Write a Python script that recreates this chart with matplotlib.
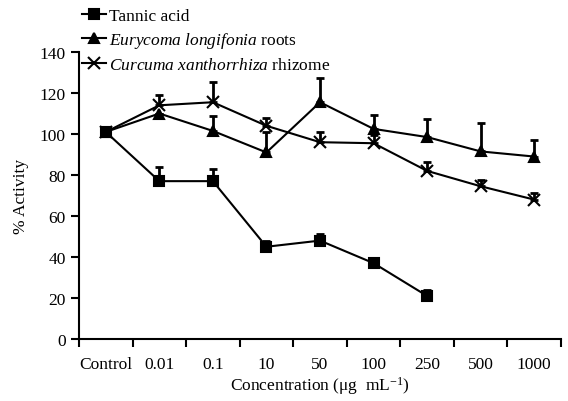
import numpy as np
import matplotlib
matplotlib.use("Agg")
import matplotlib.pyplot as plt

plt.rcParams['font.family'] = 'Liberation Serif'
plt.rcParams['mathtext.fontset'] = 'custom'
plt.rcParams['mathtext.rm'] = 'Liberation Serif'
plt.rcParams['mathtext.it'] = 'Liberation Serif:italic'
plt.rcParams['font.size'] = 12.5

# data
categories = ['Control', '0.01', '0.1', '10', '50', '100', '250', '500', '1000']

tannic = [101, 77, 77, 45, 48, 37, 21]
tannic_err = [0, 7, 6, 3, 3, 1, 3]

eurycoma = [101, 110, 101.5, 91, 115.5, 102.5, 98.5, 91.5, 89]
eurycoma_err = [0, 0, 7.5, 10, 12, 7, 9, 14, 8]

curcuma = [101, 114, 115.5, 104, 96, 95.5, 82, 74.5, 68]
curcuma_err = [0, 5, 10, 4, 5, 4, 4.5, 3, 3]

fig = plt.figure(figsize=(5.68, 4.02), dpi=100)
ax = fig.add_axes([79 / 568, 62 / 402, 482 / 568, 287 / 402])

x = np.arange(len(categories)) + 0.5

def draw(vals, errs, marker, ms, label):
    xs = x[:len(vals)]
    ax.errorbar(xs, vals, yerr=[np.zeros(len(errs)), errs], fmt='none',
                ecolor='black', elinewidth=2, capsize=3, capthick=2)
    line, = ax.plot(xs, vals, color='black', lw=1.5, marker=marker,
                    ms=ms, mew=1.5, label=label)
    return line

h3 = draw(curcuma, curcuma_err, 'x', 8, r'$\it{Curcuma\ xanthorrhiza}$ rhizome')
h2 = draw(eurycoma, eurycoma_err, '^', 7, r'$\it{Eurycoma\ longifonia}$ roots')
h1 = draw(tannic, tannic_err, 's', 7, 'Tannic acid')

ax.set_xlim(0, 9)
ax.set_ylim(0, 140)
ax.set_yticks(range(0, 141, 20))
ax.set_xticks(range(0, 10))
ax.set_xticklabels([])
ax.set_xticks(x, minor=True)
ax.set_xticklabels(categories, minor=True)
ax.tick_params(axis='x', which='minor', length=0, pad=12)
ax.tick_params(axis='both', which='major', direction='out', length=6, width=1.5)
for s in ['top', 'right']:
    ax.spines[s].set_visible(False)
for s in ['left', 'bottom']:
    ax.spines[s].set_linewidth(1.5)

ax.set_ylabel('% Activity', labelpad=8)
ax.set_xlabel(r'Concentration (μg  mL$^{-1}$)', labelpad=2)

fig.legend([h1, h2, h3], [h1.get_label(), h2.get_label(), h3.get_label()],
           loc='upper left', bbox_to_anchor=(0.133, 0.995), frameon=False,
           handlelength=1.35, handletextpad=0.2, labelspacing=0.36,
           borderaxespad=0, fontsize=12.5)

fig.savefig('out.png', dpi=100)
